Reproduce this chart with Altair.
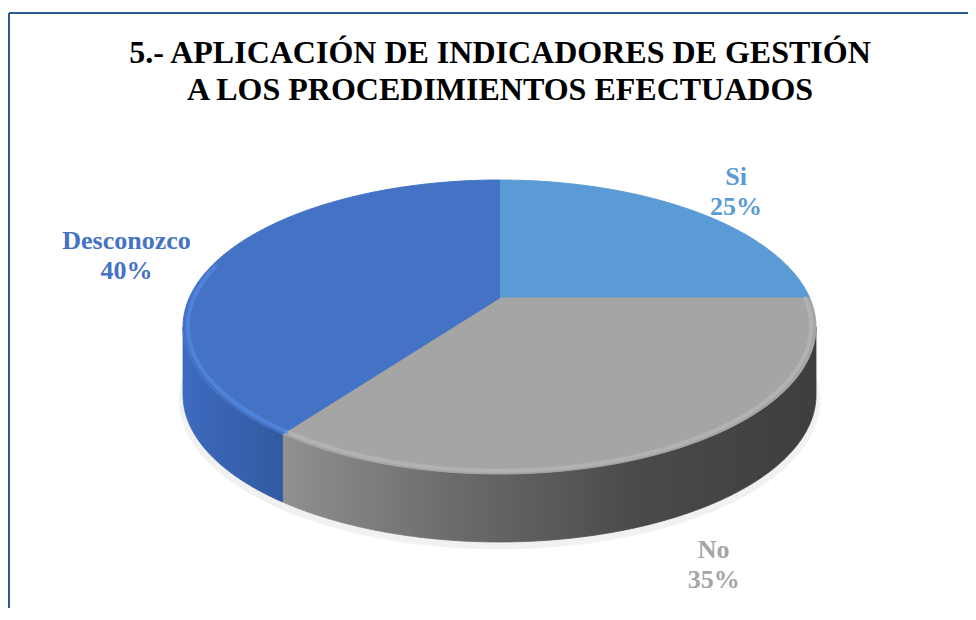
import math
import numpy as np
import pandas as pd
import altair as alt

# ---------------- data ----------------
categories = ["Si", "No", "Desconozco"]
percent = [25, 35, 40]
title_lines = ["5.- APLICACIÓN DE INDICADORES DE GESTIÓN", "A LOS PROCEDIMIENTOS EFECTUADOS"]

# ---------------- style ----------------
top_colors = {"Si": "#5B9BD5", "No": "#A5A5A5", "Desconozco": "#4472C4"}
label_colors = {"Si": "#5B9BD5", "No": "#A5A5A5", "Desconozco": "#4472C4"}
rim_colors = {"No": "#BEBEBE", "Desconozco": "#5389E0"}
rim_opacity = {"No": 0.55, "Desconozco": 0.75}
side_stops = {
    "No": ["#909090", "#6A6A6A", "#4A4A4A", "#3E3E3E"],
    "Desconozco": ["#3D6BC0", "#3A64B4", "#3660AC", "#335A9F"],
}
label_nudge = {"Si": (11, -18), "No": (0, -7), "Desconozco": (-43, -8)}
FONT = "Liberation Serif"

# pie geometry in page pixels (perspective ellipse)
CX, CY = 499.5, 327.0
RX, RY = 316.5, 147.0
A = -0.197      # perspective shift of the pie centre
DEPTH = 68
X0, X1 = 8, 968
Y0, Y1 = 8, 608


def project(theta_deg, r=1.0):
    t = math.radians(theta_deg)
    u, v = r * math.sin(t), -r * math.cos(t)
    d = 1 + A * v
    up = u * math.sqrt(1 - A * A) / d
    vp = (v + A) / d
    return CX + RX * up, CY + RY * vp


# visible front arc of the cylinder wall
theta_right = math.degrees(math.acos(A))
theta_left = 360 - theta_right

rows = []


def add_poly(name, pts):
    for i, (x, y) in enumerate(pts):
        rows.append({"piece": name, "i": i, "x": x, "y": y})


# soft shadow under the pie
sh = [(CX + (RX + 4) * math.sin(math.radians(t)),
       CY + DEPTH + 5 + (RY + 2) * -math.cos(math.radians(t))) for t in np.linspace(0, 360, 361)]
add_poly("shadow", sh)

start = 0.0
slices = []
for cat, p in zip(categories, percent):
    a0, a1 = start, start + p / 100 * 360
    slices.append((cat, a0, a1))
    start = a1

for cat, a0, a1 in slices:
    # top face
    arc = [project(t) for t in np.linspace(a0, a1, max(2, int(a1 - a0) * 2))]
    add_poly("top_" + cat, [project(0, 0)] + arc + [project(0, 0)])
    # side wall
    lo, hi = max(a0, theta_right), min(a1, theta_left)
    if hi > lo:
        top = [project(t) for t in np.linspace(lo, hi, int((hi - lo) * 2) + 2)]
        bottom = [(x, y + DEPTH) for x, y in reversed(top)]
        add_poly("side_" + cat, top + bottom + [top[0]])
        rim = [project(t, 0.985) for t in np.linspace(max(a0, theta_right - 25),
                                                        min(a1, theta_left + 25),
                                                        int((hi - lo) * 2) + 2)]
        add_poly("rim_" + cat, rim)

poly = pd.DataFrame(rows)
pieces = set(poly.piece)

xs = alt.X("x:Q", scale=alt.Scale(domain=[X0, X1], nice=False, zero=False), axis=None)
ys = alt.Y("y:Q", scale=alt.Scale(domain=[Y0, Y1], nice=False, zero=False, reverse=True), axis=None)


def poly_layer(name, fill, stroke=None, sw=1.0):
    return alt.Chart(poly).transform_filter(alt.datum.piece == name).mark_line(
        fill=fill, stroke=stroke if stroke is not None else fill, strokeWidth=sw
    ).encode(x=xs, y=ys, order=alt.Order("i:Q"))


def line_layer(name, stroke, sw, op):
    return alt.Chart(poly).transform_filter(alt.datum.piece == name).mark_line(
        stroke=stroke, strokeWidth=sw, strokeOpacity=op, strokeCap="round"
    ).encode(x=xs, y=ys, order=alt.Order("i:Q"))


def grad(stops):
    n = len(stops) - 1
    return alt.Gradient(
        gradient="linear",
        stops=[alt.GradientStop(color=c, offset=k / n) for k, c in enumerate(stops)],
        x1=0, x2=1, y1=0, y2=0,
    )


layers = [poly_layer("shadow", "#F1F1F1", sw=0.5)]
for cat, a0, a1 in slices:
    if ("side_" + cat) in pieces:
        g = grad(side_stops[cat])
        layers.append(poly_layer("side_" + cat, g, g, 0.8))
for cat, a0, a1 in slices:
    layers.append(poly_layer("top_" + cat, top_colors[cat], sw=1.0))
for cat, a0, a1 in slices:
    if ("rim_" + cat) in pieces:
        layers.append(line_layer("rim_" + cat, rim_colors[cat], 4, rim_opacity[cat]))

# labels
lab_rows = []
for cat, a0, a1 in slices:
    mid = (a0 + a1) / 2
    x, y = project(mid, 1.2)
    if y > CY:
        y += DEPTH
    dx, dy = label_nudge[cat]
    pct = dict(zip(categories, percent))[cat]
    lab_rows.append({"cat": cat, "x": x + dx, "y": y + dy, "label": f"{cat}\n{pct}%"})
labels = pd.DataFrame(lab_rows)

layers.append(
    alt.Chart(labels).mark_text(
        font=FONT, fontSize=26, fontWeight="bold", lineBreak="\n", lineHeight=30,
        align="center", baseline="middle"
    ).encode(
        x=xs, y=ys, text="label:N",
        color=alt.Color("cat:N", scale=alt.Scale(domain=categories,
                                                  range=[label_colors[c] for c in categories]),
                        legend=None),
    )
)

# title
title_df = pd.DataFrame({"x": [500], "y": [63], "t": ["\n".join(title_lines)]})
layers.append(
    alt.Chart(title_df).mark_text(
        font=FONT, fontSize=32, fontWeight="bold", lineBreak="\n", lineHeight=37,
        align="center", baseline="alphabetic", color="#000000"
    ).encode(x=xs, y=ys, text="t:N")
)

# chart border (left and top edges visible)
border = pd.DataFrame({"x": [9, 9], "x2": [X1, 9], "y": [13, 13], "y2": [13, Y1]})
layers.append(
    alt.Chart(border).mark_rule(color="#2B5B8E", strokeWidth=2).encode(
        x=xs, x2="x2:Q", y=ys, y2="y2:Q")
)

chart = alt.layer(*layers).properties(
    width=X1 - X0, height=Y1 - Y0, padding=0, autosize=alt.AutoSizeParams(type="none"),
    background="#FFFFFF",
).configure_view(stroke=None)

chart.save("out.html", embed_options={"renderer": "svg", "actions": False})
